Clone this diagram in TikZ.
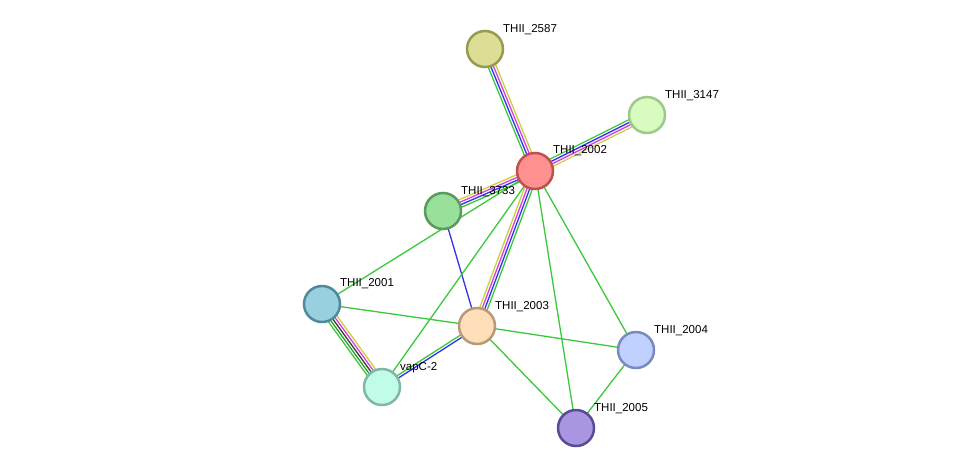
\documentclass[tikz,border=0pt]{standalone}
\usepackage{fontspec}
\setmainfont{Liberation Sans}
\usetikzlibrary{calc}
\pgfdeclarelayer{background}
\pgfsetlayers{background,main}
\definecolor{cgreen}{RGB}{60,200,60}
\definecolor{cgreentwo}{RGB}{40,160,40}
\definecolor{cblue}{RGB}{50,50,240}
\definecolor{cmag}{RGB}{220,60,220}
\definecolor{cyel}{RGB}{200,210,60}
\definecolor{cblack}{RGB}{60,60,60}
\tikzset{
  prot/.style={circle, minimum size=36pt, inner sep=0pt, line width=2.5pt},
  lbl/.style={anchor=base west, inner sep=0pt, font=\fontsize{11.5}{13}\selectfont, text=black},
  edge/.style={line width=1.3pt}
}
\newcommand{\medge}[4]{\draw[edge,#4] ($(#1.center)!#3!90:(#2.center)$) -- ($(#2.center)!#3!-90:(#1.center)$);}
\newcommand{\sedge}[3]{\draw[edge,#3] (#1.center) -- (#2.center);}
\begin{document}
\begin{tikzpicture}[x=1pt,y=-1pt]
\useasboundingbox (0,0) rectangle (976,474);
% nodes
\node[prot, fill={rgb,255:red,220;green,222;blue,150}, draw={rgb,255:red,152;green,154;blue,82}] (n2587) at (485,49) {};
\node[prot, fill={rgb,255:red,216;green,252;blue,192}, draw={rgb,255:red,160;green,200;blue,138}] (n3147) at (647,115) {};
\node[prot, fill={rgb,255:red,255;green,144;blue,144}, draw={rgb,255:red,192;green,80;blue,80}] (n2002) at (535,171) {};
\node[prot, fill={rgb,255:red,153;green,224;blue,154}, draw={rgb,255:red,90;green,154;blue,90}] (n3733) at (443,211) {};
\node[prot, fill={rgb,255:red,153;green,208;blue,224}, draw={rgb,255:red,80;green,138;blue,154}] (n2001) at (322,304) {};
\node[prot, fill={rgb,255:red,255;green,222;blue,186}, draw={rgb,255:red,184;green,154;blue,120}] (n2003) at (477,326) {};
\node[prot, fill={rgb,255:red,192;green,208;blue,255}, draw={rgb,255:red,122;green,138;blue,192}] (n2004) at (636,350) {};
\node[prot, fill={rgb,255:red,192;green,252;blue,232}, draw={rgb,255:red,128;green,184;blue,168}] (nvapC) at (382,387) {};
\node[prot, fill={rgb,255:red,168;green,150;blue,224}, draw={rgb,255:red,90;green,74;blue,152}] (n2005) at (576,428) {};
% labels
\node[lbl] (l2587) at (503,32) {THII\_2587};
\node[lbl] (l3147) at (665,98) {THII\_3147};
\node[lbl] (l2002) at (553,153) {THII\_2002};
\node[lbl] (l3733) at (461,194) {THII\_3733};
\node[lbl] (l2001) at (340,286) {THII\_2001};
\node[lbl] (l2003) at (495,309) {THII\_2003};
\node[lbl] (l2004) at (654,333) {THII\_2004};
\node[lbl] (lvapC) at (400,370) {vapC-2};
\node[lbl] (l2005) at (594,411) {THII\_2005};
% edges
\begin{pgfonlayer}{background}
\fill[white] (0,0) rectangle (976,474);
\foreach \t in {n2587,n3147,n3733,n2003}{
  \medge{n2002}{\t}{3.9pt}{cgreen}
  \medge{n2002}{\t}{1.3pt}{cblue}
  \medge{n2002}{\t}{-1.3pt}{cmag}
  \medge{n2002}{\t}{-3.9pt}{cyel}
}
\medge{nvapC}{n2001}{5.2pt}{cgreen}
\medge{nvapC}{n2001}{2.6pt}{cgreentwo}
\medge{nvapC}{n2001}{0pt}{cblack}
\medge{nvapC}{n2001}{-2.6pt}{cmag}
\medge{nvapC}{n2001}{-5.2pt}{cyel}
\medge{nvapC}{n2003}{1.3pt}{cgreen}
\medge{nvapC}{n2003}{-1.3pt}{cblue}
\sedge{n3733}{n2003}{cblue}
\sedge{n2001}{n2002}{cgreen}
\sedge{nvapC}{n2002}{cgreen}
\sedge{n2004}{n2002}{cgreen}
\sedge{n2005}{n2002}{cgreen}
\sedge{n2001}{n2003}{cgreen}
\sedge{n2003}{n2004}{cgreen}
\sedge{n2003}{n2005}{cgreen}
\sedge{n2004}{n2005}{cgreen}
\end{pgfonlayer}
\end{tikzpicture}
\end{document}
